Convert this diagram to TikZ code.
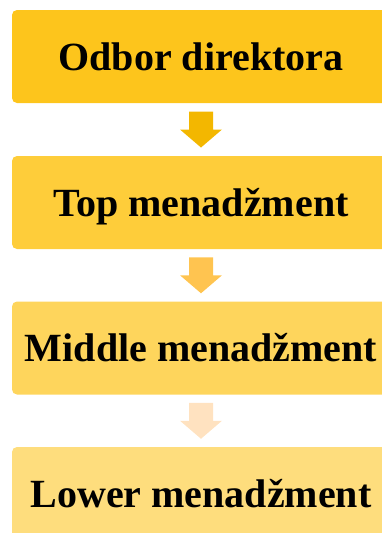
\documentclass[tikz,border=0pt]{standalone}
\usepackage{fontspec}
\setmainfont{Liberation Serif}
\usetikzlibrary{calc}
\definecolor{boxA}{RGB}{253,197,28}
\definecolor{boxB}{RGB}{254,205,58}
\definecolor{boxC}{RGB}{254,213,92}
\definecolor{boxD}{RGB}{254,221,125}
\definecolor{arrA}{RGB}{243,183,0}
\definecolor{arrB}{RGB}{255,196,80}
\definecolor{arrC}{RGB}{255,226,192}
\tikzset{
  levelbox/.style={rounded corners=5pt, minimum width=378pt, minimum height=93pt,
    inner sep=0pt, text height=27pt, text depth=0pt,
    font=\fontsize{40}{44}\selectfont\bfseries},
}
\newcommand{\blockarrow}[2]{%
  \fill[#2, shift={(#1)}] (-12pt,18pt) -- (12pt,18pt) -- (12pt,0pt) -- (21pt,0pt)
    -- (0pt,-18pt) -- (-21pt,0pt) -- (-12pt,0pt) -- cycle;}
\begin{document}
\begin{tikzpicture}[x=1pt,y=1pt]
\useasboundingbox (0,0) rectangle (382,-533);
\node[levelbox, fill=boxA] (b1) at (201,-56.5) {Odbor direktora};
\node[levelbox, fill=boxB] (b2) at (201,-202.5) {Top menadžment};
\node[levelbox, fill=boxC] (b3) at (201,-348) {Middle menadžment};
\node[levelbox, fill=boxD] (b4) at (201,-493.5) {Lower menadžment};
\coordinate (a1) at ($(b1.south)!0.5!(b2.north)$);
\coordinate (a2) at ($(b2.south)!0.5!(b3.north)$);
\coordinate (a3) at ($(b3.south)!0.5!(b4.north)$);
\blockarrow{a1}{arrA}
\blockarrow{a2}{arrB}
\blockarrow{a3}{arrC}
\end{tikzpicture}
\end{document}
